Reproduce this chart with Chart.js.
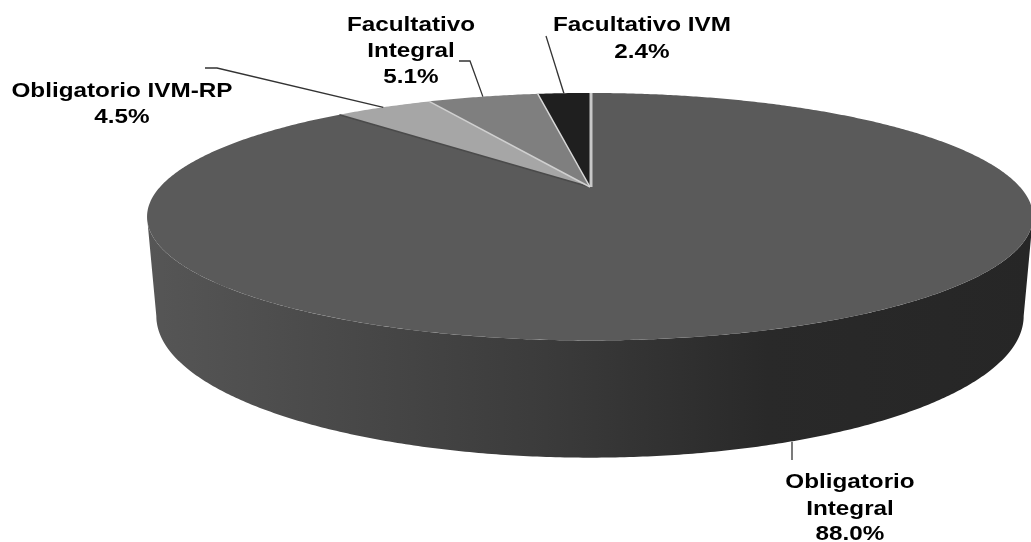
<!DOCTYPE html>
<html>
<head>
<meta charset="utf-8">
<style>
  html, body { margin: 0; padding: 0; background: #fff; overflow: hidden; }
  canvas { display: block; }
</style>
<script src="https://cdn.jsdelivr.net/npm/chart.js@4"></script>
</head>
<body>
<canvas id="pie" width="1031" height="542"></canvas>
<script>
// Datos del grafico
const categories = ['Obligatorio Integral', 'Obligatorio IVM-RP', 'Facultativo Integral', 'Facultativo IVM'];
const shares = [88.0, 4.5, 5.1, 2.4];
const sliceColors = ['#5a5a5a', '#a6a6a6', '#7f7f7f', '#1f1f1f'];
const edgeColors = ['#c8c8c8', '#4a4a4a', '#d0d0d0', '#d8d8d8'];

// Etiquetas: lineas de texto, centro x, lineas base y, y puntos fijos de la guia
const labelLines = [['Obligatorio', 'Integral', '88.0%'], ['Obligatorio IVM-RP', '4.5%'], ['Facultativo', 'Integral', '5.1%'], ['Facultativo IVM', '2.4%']];
const labelX = [850, 122, 411, 642];
const labelBase = [[488, 515, 540], [97, 123], [31, 57, 83], [31, 58]];
const leaderStart = [[[792, 460]], [[205, 68], [217, 68]], [[459, 61], [470, 61]], [[546, 36]]];

// Proyeccion en perspectiva del circulo del pie
const persp = { cx: 590, p: 0.24, top: { cy: 187, rx: 430, ry: 116.6 }, base: { cy: 282, rx: 421, ry: 133.5 } };

function project(angle, plane) {
  const u = Math.cos(angle), v = -Math.sin(angle), w = 1 + persp.p * v;
  return [persp.cx + plane.rx * u / w, plane.cy - plane.ry * v / w];
}

function traceEdge(ctx, from, to, plane) {
  const steps = Math.max(2, Math.ceil(Math.abs(to - from) * 120));
  for (let i = 0; i <= steps; i++) {
    const pt = project(from + (to - from) * i / steps, plane);
    ctx.lineTo(pt[0], pt[1]);
  }
}

// Cara lateral, cara superior y etiquetas a partir de los arcos de Chart.js
const pie3d = {
  id: 'pie3d',
  beforeDatasetDraw(chart) {
    const ctx = chart.ctx;
    const arcs = chart.getDatasetMeta(0).data;

    // pared frontal, visible entre los dos extremos de la silueta
    const limit = Math.asin(persp.p);
    const from = Math.max(arcs[0].startAngle, limit);
    const to = Math.min(arcs[0].endAngle, Math.PI - limit);
    const wall = ctx.createLinearGradient(147, 0, 1033, 0);
    wall.addColorStop(0, '#565656');
    wall.addColorStop(0.2, '#4a4a4a');
    wall.addColorStop(0.45, '#3b3b3b');
    wall.addColorStop(0.7, '#292929');
    wall.addColorStop(1, '#262626');
    ctx.beginPath();
    traceEdge(ctx, from, to, persp.top);
    traceEdge(ctx, to, from, persp.base);
    ctx.closePath();
    ctx.fillStyle = wall;
    ctx.fill();

    // cara superior
    const apex = [persp.cx, persp.top.cy];
    arcs.forEach((arc, i) => {
      ctx.beginPath();
      ctx.moveTo(apex[0], apex[1]);
      traceEdge(ctx, arc.startAngle, arc.endAngle, persp.top);
      ctx.closePath();
      ctx.fillStyle = sliceColors[i];
      ctx.fill();
    });

    // bordes radiales de cada porcion
    arcs.forEach((arc, i) => {
      const pt = project(arc.startAngle, persp.top);
      const shift = i === 0 ? 1 : 0;
      ctx.beginPath();
      ctx.moveTo(apex[0] + shift, apex[1]);
      ctx.lineTo(pt[0] + shift, pt[1]);
      ctx.strokeStyle = edgeColors[i];
      ctx.lineWidth = i === 0 ? 3 : 1.5;
      ctx.stroke();
    });

    // guias
    ctx.strokeStyle = '#333333';
    ctx.lineWidth = 1.3;
    arcs.forEach((arc, i) => {
      const mid = (arc.startAngle + arc.endAngle) / 2;
      const end = project(mid, i === 0 ? persp.base : persp.top);
      const last = leaderStart[i][leaderStart[i].length - 1];
      ctx.beginPath();
      leaderStart[i].forEach(pt => ctx.lineTo(pt[0], pt[1]));
      ctx.lineTo(i === 0 ? last[0] : end[0], end[1]);
      ctx.stroke();
    });

    // texto
    ctx.fillStyle = '#000000';
    ctx.font = 'bold 21px "Liberation Sans", Arial, sans-serif';
    ctx.textAlign = 'center';
    ctx.textBaseline = 'alphabetic';
    labelLines.forEach((lines, i) => {
      lines.forEach((line, j) => {
        ctx.save();
        ctx.translate(labelX[i], labelBase[i][j]);
        ctx.scale(1.155, 1);
        ctx.fillText(line, 0, 0);
        ctx.restore();
      });
    });
    return false;
  }
};

new Chart(document.getElementById('pie'), {
  type: 'pie',
  data: {
    labels: categories,
    datasets: [{ data: shares, backgroundColor: sliceColors, borderWidth: 0 }]
  },
  options: {
    responsive: false,
    animation: false,
    plugins: { legend: { display: false }, tooltip: { enabled: false } }
  },
  plugins: [pie3d]
});
</script>
</body>
</html>
